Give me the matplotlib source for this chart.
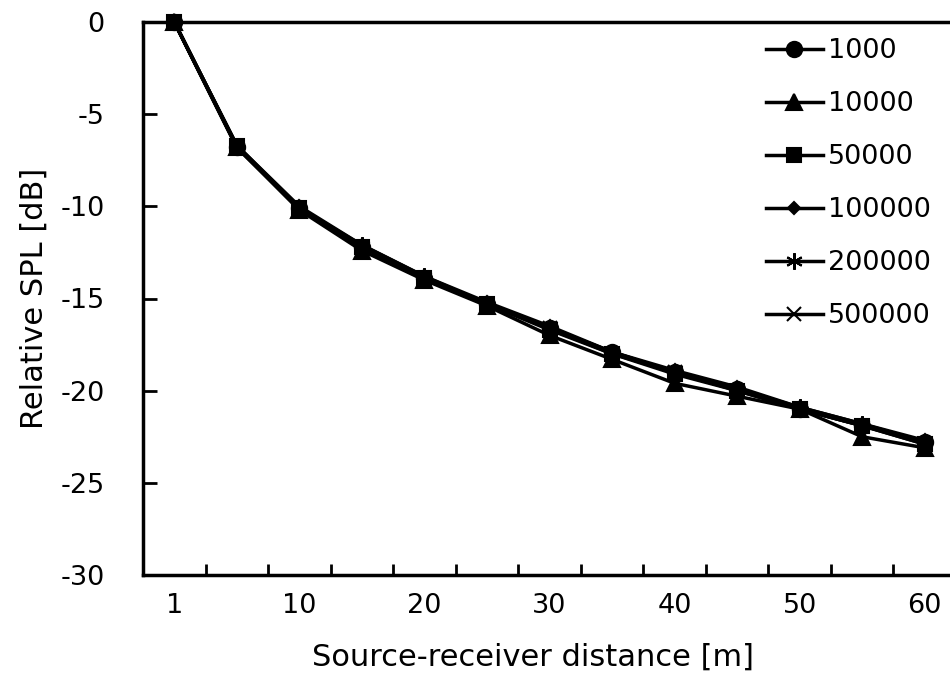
import matplotlib
matplotlib.use('Agg')
import matplotlib.pyplot as plt
import numpy as np

# 距离类别 (m)
distances = ['1', '5', '10', '15', '20', '25', '30', '35', '40', '45', '50', '55', '60']
tick_labels = ['1', '10', '20', '30', '40', '50', '60']

# 各粒子数对应的相对声压级 [dB]
spl_1000 = [0, -6.8, -10.1, -12.2, -13.9, -15.3, -16.6, -17.9, -19.0, -19.9, -21.0, -21.9, -22.8]
spl_10000 = [0, -6.8, -10.2, -12.4, -14.0, -15.4, -17.0, -18.3, -19.6, -20.3, -21.0, -22.5, -23.1]
spl_50000 = [0, -6.7, -10.1, -12.2, -13.9, -15.3, -16.7, -18.0, -19.1, -20.0, -21.0, -21.9, -22.9]
spl_100000 = [0, -6.7, -10.0, -12.1, -13.8, -15.2, -16.5, -17.9, -18.9, -19.8, -20.9, -21.8, -22.7]
spl_200000 = [0, -6.7, -10.1, -12.1, -13.8, -15.3, -16.6, -17.9, -19.0, -19.9, -20.9, -21.8, -22.8]
spl_500000 = [0, -6.8, -10.1, -12.2, -13.9, -15.3, -16.6, -18.0, -19.0, -20.0, -21.0, -21.9, -22.9]

series = [
    ('1000', spl_1000, 'o', 11),
    ('10000', spl_10000, '^', 11),
    ('50000', spl_50000, 's', 10),
    ('100000', spl_100000, 'D', 6),
    ('200000', spl_200000, (6, 2, 0), 12),
    ('500000', spl_500000, 'x', 10),
]

plt.rcParams['font.family'] = ['DejaVu Sans']
FS = 19.5      # 刻度和图例
FS_LABEL = 22  # 坐标轴标题

fig = plt.figure(figsize=(9.5, 6.82), dpi=100)
ax = fig.add_axes([143 / 950, 1 - 575 / 682, (956 - 143) / 950, (575 - 22) / 682])

x = np.arange(len(distances))
for name, vals, mk, ms in series:
    ax.plot(x, vals, color='black', linewidth=2.5, marker=mk, markersize=ms,
            markeredgecolor='black', markeredgewidth=1.5, label=name,
            clip_on=False, zorder=5)

ax.set_xlim(-0.5, len(distances) - 0.5)
ax.set_ylim(-30, 0)

ax.set_xticks(x[::2])
ax.set_xticklabels(tick_labels, fontsize=FS)
ax.set_xticks(x[:-1] + 0.5, minor=True)
ax.tick_params(axis='x', which='major', length=0, pad=13)
ax.tick_params(axis='x', which='minor', direction='in', length=8, width=2)

ax.set_yticks(np.arange(-30, 1, 5))
ax.set_yticklabels([str(v) for v in range(-30, 1, 5)], fontsize=FS)
ax.tick_params(axis='y', direction='in', length=10, width=2, pad=27.5)

for side in ['left', 'bottom', 'top']:
    ax.spines[side].set_linewidth(2.5)
ax.spines['right'].set_visible(False)

ax.set_ylabel('Relative SPL [dB]', fontsize=FS_LABEL)
ax.yaxis.set_label_coords(-(143 - 49) / 813, 0.5)
ax.set_xlabel('Source-receiver distance [m]', fontsize=FS_LABEL)
ax.xaxis.set_label_coords((533 - 143) / 813, -(643 - 575) / 553)

leg = ax.legend(loc='upper left', bbox_to_anchor=(766 / 950, 1 - 38 / 682),
                bbox_transform=fig.transFigure, frameon=False, fontsize=FS,
                handlelength=2.1, handletextpad=0.2, labelspacing=1.0,
                borderpad=0, borderaxespad=0)

fig.savefig('out.png', dpi=100)
